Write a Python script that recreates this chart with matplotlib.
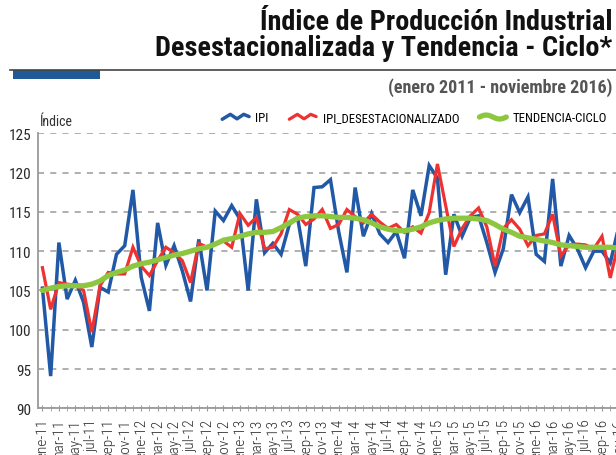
import matplotlib
matplotlib.use("Agg")
import matplotlib.pyplot as plt
from matplotlib.legend_handler import HandlerBase
from matplotlib.lines import Line2D
from matplotlib.patches import Rectangle
import numpy as np

# Monthly data, enero 2011 - noviembre 2016
month_names = ["ene", "feb", "mar", "abr", "may", "jun",
               "jul", "ago", "sep", "oct", "nov", "dic"]
years = [11, 12, 13, 14, 15, 16]
months = [f"{m}-{y}" for y in years for m in month_names][:71]

ipi = [105.3, 94.1, 111.1, 103.9, 106.3, 103.5, 97.8, 105.4, 104.8, 109.6,
       110.7, 117.8, 106.7, 102.4, 113.6, 108.2, 110.7, 107.5, 103.6, 111.5,
       105.0, 115.1, 113.9, 115.8, 114.1, 105.0, 116.6, 109.8, 111.0, 109.6,
       113.4, 114.3, 108.1, 118.1, 118.2, 119.1, 112.5, 107.3, 118.1, 111.9,
       114.8, 112.2, 111.1, 112.5, 109.1, 117.8, 114.5, 120.9, 119.3, 107.0,
       114.7, 111.9, 114.3, 114.5, 111.1, 107.3, 110.3, 117.2, 114.9, 116.9,
       109.6, 108.7, 119.2, 108.1, 112.0, 110.3, 107.9, 110.0, 110.0, 108.5,
       113.0]

ipi_desest = [107.9, 102.6, 106.0, 105.8, 105.7, 105.0, 99.7, 105.6, 107.3, 107.1,
              107.1, 110.5, 108.1, 106.9, 108.8, 110.5, 109.8, 108.8, 106.0, 111.0,
              110.5, 110.9, 111.3, 110.5, 114.8, 113.3, 114.3, 110.3, 110.5, 112.2,
              115.3, 114.7, 113.4, 114.1, 115.3, 112.9, 113.4, 115.3, 114.4, 113.6,
              114.7, 113.7, 112.9, 113.4, 112.4, 113.1, 112.3, 114.9, 121.1, 115.8,
              110.6, 112.9, 114.5, 115.5, 113.1, 108.1, 112.9, 114.0, 112.8, 110.7,
              112.0, 112.2, 114.7, 109.4, 110.8, 110.9, 110.8, 110.3, 111.9, 106.6,
              111.0]

tendencia = [105.0, 105.3, 105.5, 105.6, 105.6, 105.6, 105.8, 106.2, 106.9, 107.3,
             107.6, 108.1, 108.4, 108.6, 108.9, 109.2, 109.5, 109.7, 110.0, 110.3,
             110.5, 110.9, 111.4, 111.6, 111.9, 112.2, 112.4, 112.4, 112.5, 113.0,
             113.6, 114.2, 114.4, 114.5, 114.5, 114.4, 114.3, 114.3, 114.2, 114.0,
             113.6, 113.1, 112.8, 112.6, 112.6, 112.8, 113.1, 113.6, 113.9, 114.1,
             114.2, 114.2, 114.2, 114.1, 113.9, 113.4, 112.8, 112.4, 111.9, 111.7,
             111.5, 111.3, 111.1, 110.8, 110.7, 110.6, 110.5, 110.5, 110.5, 110.5,
             110.4]

y_ticks = [90, 95, 100, 105, 110, 115, 120, 125]

plt.rcParams['font.family'] = ['Roboto Condensed', 'DejaVu Sans']

BLUE = "#2159a6"
RED = "#ee3131"
GREEN = "#8dc63f"
GRID = "#9a9a9a"


class ZigzagHandler(HandlerBase):
    # small zigzag / wave symbol like the original legend
    def __init__(self, wave=False):
        super().__init__()
        self.wave = wave

    def create_artists(self, legend, orig_handle, xdescent, ydescent,
                       width, height, fontsize, trans):
        if self.wave:
            t = np.linspace(0, 1, 30)
            xs = -xdescent + t * width
            ys = -ydescent + height / 2 + np.sin(t * 2 * np.pi) * height * 0.22
        else:
            xs = -xdescent + np.array([0, 0.3, 0.55, 0.8, 1.0]) * width
            ys = -ydescent + height * np.array([0.25, 0.8, 0.3, 0.8, 0.55])
        line = Line2D(xs, ys, color=orig_handle.get_color(),
                      lw=orig_handle.get_linewidth(), solid_capstyle="round",
                      solid_joinstyle="round", transform=trans)
        return [line]


fig = plt.figure(figsize=(6.16, 4.56), dpi=100)
ax = fig.add_axes([0.0622, 0.1024, 0.9485, 0.603])

x = np.arange(len(months))
l1, = ax.plot(x, ipi, color=BLUE, lw=2.5, zorder=3, label="IPI",
              solid_joinstyle="miter")
l2, = ax.plot(x, ipi_desest, color=RED, lw=2.3, zorder=4,
              label="IPI_DESESTACIONALIZADO", solid_joinstyle="miter")
l3, = ax.plot(x, tendencia, color=GREEN, lw=3.8, zorder=5, label="TENDENCIA-CICLO",
              solid_capstyle="round", solid_joinstyle="round")

ax.set_xlim(-0.5, len(months) - 0.5)
ax.set_ylim(90, 125)
ax.set_yticks(y_ticks)
ax.set_yticklabels([str(v) for v in y_ticks], fontsize=11, color="#2a2a2a")
ax.tick_params(axis="y", length=0, pad=5)

ax.set_xticks(x[::2])
ax.set_xticklabels(months[::2], rotation=90, fontsize=11, color="#2a2a2a",
                   fontweight="light")
ax.set_xticks(x, minor=True)
ax.tick_params(axis="x", which="both", length=4, direction="inout",
               color=GRID, pad=5)

ax.grid(axis="y", color=GRID, linestyle=(0, (4, 4)), lw=1.1)
ax.set_axisbelow(True)
for side in ["top", "right"]:
    ax.spines[side].set_visible(False)
for side in ["left", "bottom"]:
    ax.spines[side].set_color(GRID)
    ax.spines[side].set_linewidth(1.3)

# axis caption
fig.text(40 / 616, 1 - 122 / 456, "Índice", fontsize=10, color="#333333",
         va="center", ha="left")

# legend
ax.legend(handles=[l1, l2, l3],
          handler_map={l1: ZigzagHandler(), l2: ZigzagHandler(),
                       l3: ZigzagHandler(wave=True)},
          loc="center right", bbox_to_anchor=(1.0, 1 - 119 / 456),
          bbox_transform=fig.transFigure, ncol=3, frameon=False,
          fontsize=9.2, handlelength=2.1, columnspacing=1.6, handletextpad=0.5,
          borderaxespad=0.3)

# title block
fig.text(0.994, 1 - 23 / 456, "Índice de Producción Industrial",
         fontsize=20.3, fontweight="bold", ha="right", va="center", color="#111111")
fig.text(0.994, 1 - 49 / 456, "Desestacionalizada y Tendencia - Ciclo*",
         fontsize=20.3, fontweight="bold", ha="right", va="center", color="#111111")
fig.add_artist(Line2D([10 / 616, 1.0], [1 - 71 / 456, 1 - 71 / 456],
                      transform=fig.transFigure, color="#444444", lw=1.2))
fig.add_artist(Rectangle((13 / 616, 1 - 80 / 456), 87 / 616, 9 / 456,
                         transform=fig.transFigure, color="#1f5a96", lw=0))
fig.text(0.994, 1 - 88 / 456, "(enero 2011 - noviembre 2016)",
         fontsize=13, fontweight="bold", ha="right", va="center", color="#555555")

plt.savefig("out.png", dpi=100)
